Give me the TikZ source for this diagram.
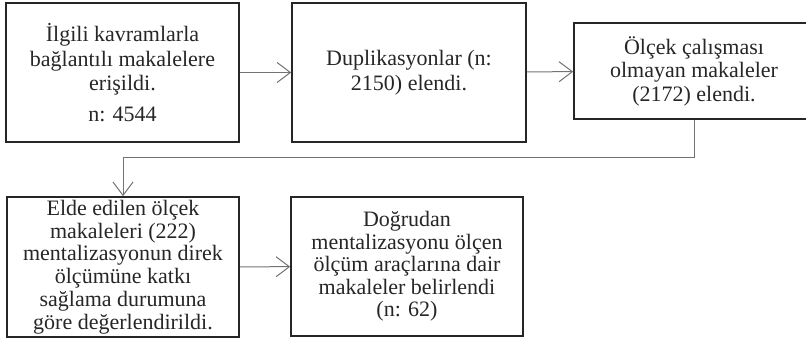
\documentclass[tikz,border=0pt]{standalone}
\usepackage{fontspec}
\setmainfont{Liberation Serif}
\usetikzlibrary{arrows.meta}
\usetikzlibrary{positioning}

\begin{document}
\begin{tikzpicture}[x=0.75pt,y=-0.75pt,
  every node/.style={draw=black!85,text=black!85,line width=1.2pt,rectangle,align=center,inner sep=2pt,font=\fontsize{16.5}{17.1}\selectfont},
  link/.style={draw=black!55,line width=0.75pt,-{Straight Barb[length=10pt,width=15pt,line width=0.75pt]}}]
  \useasboundingbox (0,0) rectangle (806,340);
  \node (1) at (122.5,72.5)[minimum width=174.75pt,minimum height=104.25pt,font=\fontsize{16.5}{18.4}\selectfont]{İlgili kavramlarla\\bağlantılı makalelere\\erişildi.\\[4.5pt]n: 4544};
  \node (2) at (409,72.5)[minimum width=175.5pt,minimum height=104.25pt,font=\fontsize{16.5}{18.8}\selectfont]{Duplikasyonlar (n:\\2150) elendi.};
  \node (3) at (694,71)[minimum width=180pt,minimum height=72pt,font=\fontsize{16.5}{17.6}\selectfont]{Ölçek çalışması\\olmayan makaleler\\(2172) elendi.};
  \node (4) at (123,267)[minimum width=174pt,minimum height=105pt]{Elde edilen ölçek\\makaleleri (222)\\mentalizasyonun direk\\ölçümüne katkı\\sağlama durumuna\\göre değerlendirildi.};
  \node (5) at (407,266.5)[minimum width=174pt,minimum height=104.25pt,font=\fontsize{16.5}{16.8}\selectfont]{Doğrudan\\mentalizasyonu ölçen\\ölçüm araçlarına dair\\makaleler belirlendi\\(n: 62)};

  \draw[link](1)--(2);
  \draw[link](2)--(3);
  \draw[link](3.south)--++(0,38)-|(4.north);
  \draw[link](4)--(5);
\end{tikzpicture}
\end{document}
